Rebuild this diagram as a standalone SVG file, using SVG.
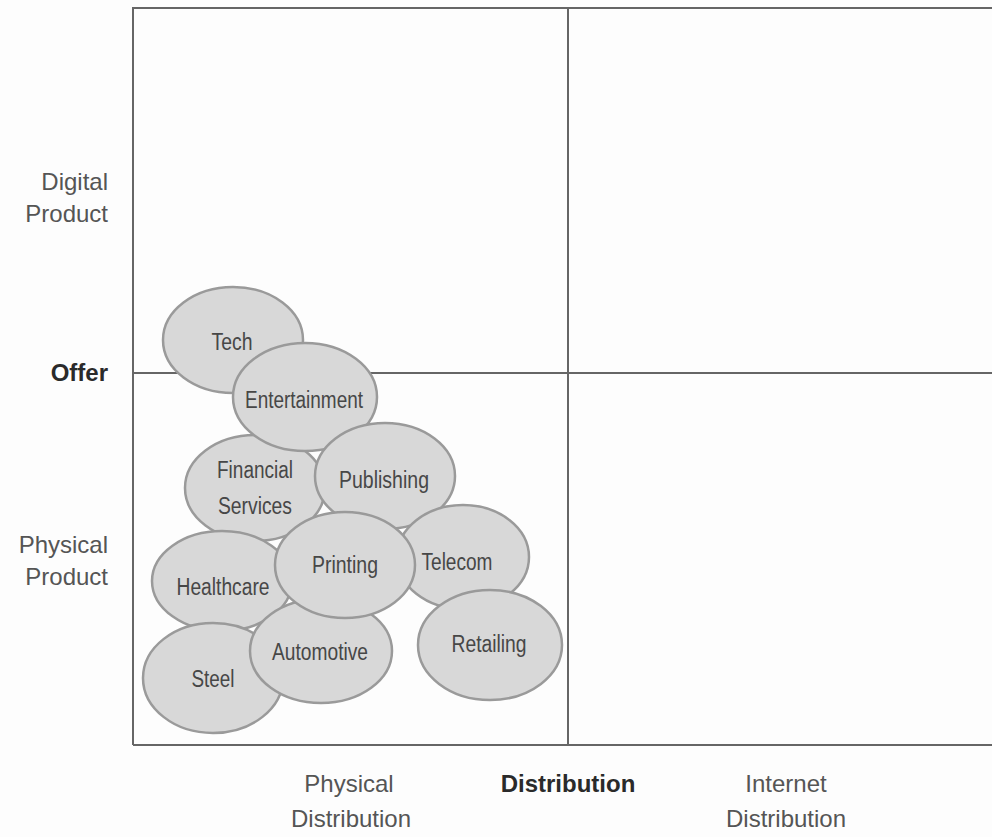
<svg xmlns="http://www.w3.org/2000/svg" width="992" height="837" viewBox="0 0 992 837">
<style>
.bg{fill:#fdfdfd}
.frame{fill:none;stroke:#666;stroke-width:2}
.bub ellipse{fill:#d8d8d8;stroke:#9a9a9a;stroke-width:2.5}
.bub text{font-family:"Liberation Sans",Arial,sans-serif;font-size:23px;fill:#474747;text-anchor:middle}
.ax{font-family:"Liberation Sans",Arial,sans-serif;font-size:24px;fill:#555}
.axb{font-family:"Liberation Sans",Arial,sans-serif;font-size:24px;font-weight:bold;fill:#2a2a2a}
</style>
<rect class="bg" x="0" y="0" width="992" height="837"/>
<g id="grid">
<path class="frame" d="M133 745 L133 8 L994 8 M133 745 L994 745 M568 8 L568 745 M133 373 L994 373"/>
</g>
<g id="axis-labels">
<text class="ax" x="108" y="190" text-anchor="end">Digital</text>
<text class="ax" x="108" y="222" text-anchor="end">Product</text>
<text class="axb" x="108" y="381" text-anchor="end">Offer</text>
<text class="ax" x="108" y="553" text-anchor="end">Physical</text>
<text class="ax" x="108" y="585" text-anchor="end">Product</text>
<text class="ax" x="349" y="792" text-anchor="middle">Physical</text>
<text class="ax" x="351" y="827" text-anchor="middle">Distribution</text>
<text class="axb" x="568" y="792" text-anchor="middle">Distribution</text>
<text class="ax" x="786" y="792" text-anchor="middle">Internet</text>
<text class="ax" x="786" y="827" text-anchor="middle">Distribution</text>
</g>
<g id="tech" class="bub"><ellipse cx="233" cy="340" rx="70" ry="53"/><text x="232" y="350" textLength="41" lengthAdjust="spacingAndGlyphs">Tech</text></g>
<g id="financial-services" class="bub"><ellipse cx="255" cy="488" rx="70" ry="53"/><text x="255" y="478" textLength="76" lengthAdjust="spacingAndGlyphs">Financial</text><text x="255" y="514" textLength="74" lengthAdjust="spacingAndGlyphs">Services</text></g>
<g id="entertainment" class="bub"><ellipse cx="305" cy="397" rx="72" ry="54"/><text x="304" y="408" textLength="118" lengthAdjust="spacingAndGlyphs">Entertainment</text></g>
<g id="publishing" class="bub"><ellipse cx="385" cy="476" rx="70" ry="53"/><text x="384" y="488" textLength="90" lengthAdjust="spacingAndGlyphs">Publishing</text></g>
<g id="healthcare" class="bub"><ellipse cx="222" cy="581" rx="70" ry="50"/><text x="223" y="595" textLength="93" lengthAdjust="spacingAndGlyphs">Healthcare</text></g>
<g id="telecom" class="bub"><ellipse cx="463" cy="557" rx="66" ry="52"/><text x="457" y="570" textLength="71" lengthAdjust="spacingAndGlyphs">Telecom</text></g>
<g id="steel" class="bub"><ellipse cx="213" cy="678" rx="70" ry="55"/><text x="213" y="687" textLength="43" lengthAdjust="spacingAndGlyphs">Steel</text></g>
<g id="automotive" class="bub"><ellipse cx="321" cy="651" rx="71" ry="52"/><text x="320" y="660" textLength="96" lengthAdjust="spacingAndGlyphs">Automotive</text></g>
<g id="retailing" class="bub"><ellipse cx="490" cy="645" rx="72" ry="55"/><text x="489" y="652" textLength="75" lengthAdjust="spacingAndGlyphs">Retailing</text></g>
<g id="printing" class="bub"><ellipse cx="345" cy="565" rx="70" ry="53"/><text x="345" y="573" textLength="66" lengthAdjust="spacingAndGlyphs">Printing</text></g>
</svg>
